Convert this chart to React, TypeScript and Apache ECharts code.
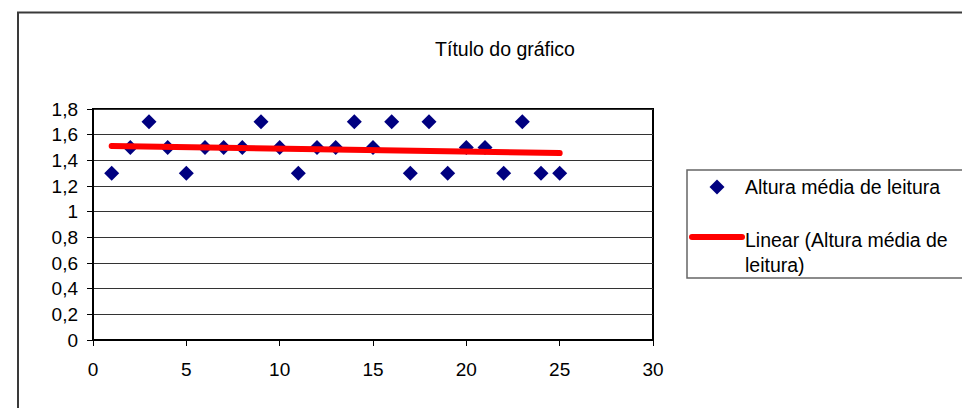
import React, { useEffect, useRef } from "react";
import * as echarts from "echarts";

const xValues = [1, 2, 3, 4, 5, 6, 7, 8, 9, 10, 11, 12, 13, 14, 15, 16, 17, 18, 19, 20, 21, 22, 23, 24, 25];
const yValues = [1.3, 1.5, 1.7, 1.5, 1.3, 1.5, 1.5, 1.5, 1.7, 1.5, 1.3, 1.5, 1.5, 1.7, 1.5, 1.7, 1.3, 1.7, 1.3, 1.5, 1.5, 1.3, 1.7, 1.3, 1.3];
const seriesName = "Altura média de leitura";
const trendName = "Linear (Altura média de leitura)";
const titleText = "Título do gráfico";

const FONT = '"Liberation Sans", Arial, sans-serif';

function linearFit(xs: number[], ys: number[]) {
  const n = xs.length;
  const mx = xs.reduce((a, b) => a + b, 0) / n;
  const my = ys.reduce((a, b) => a + b, 0) / n;
  let sxy = 0;
  let sxx = 0;
  for (let i = 0; i < n; i++) {
    sxy += (xs[i] - mx) * (ys[i] - my);
    sxx += (xs[i] - mx) * (xs[i] - mx);
  }
  const slope = sxy / sxx;
  const intercept = my - slope * mx;
  return { slope, intercept };
}

export default function App() {
  const ref = useRef<HTMLDivElement>(null);
  useEffect(() => {
    if (!ref.current) return;
    const chart = echarts.init(ref.current, undefined, { renderer: "svg" });
    const fit = linearFit(xValues, yValues);
    const x0 = xValues[0];
    const x1 = xValues[xValues.length - 1];
    const trendData = [
      [x0, fit.intercept + fit.slope * x0],
      [x1, fit.intercept + fit.slope * x1],
    ];
    const fmt = (v: number) => String(Math.round(v * 10) / 10).replace(".", ",");
    chart.setOption({
      animation: false,
      backgroundColor: "#ffffff",
      textStyle: { fontFamily: FONT },
      title: {
        text: titleText,
        left: 500,
        top: 34,
        textAlign: "center",
        textStyle: { fontFamily: FONT, fontSize: 19.5, fontWeight: "normal", color: "#000" },
      },
      grid: {
        left: 93,
        top: 109,
        right: 309,
        bottom: 68,
        show: true,
        borderColor: "#000",
        borderWidth: 2,
        backgroundColor: "#fff",
      },
      xAxis: {
        type: "value",
        min: 0,
        max: 30,
        interval: 5,
        axisLine: { show: true, lineStyle: { color: "#000", width: 2 } },
        axisTick: { show: true, length: 6, lineStyle: { color: "#000", width: 1 } },
        axisLabel: { color: "#000", fontSize: 19, fontFamily: FONT, margin: 20 },
        splitLine: { show: false },
      },
      yAxis: {
        type: "value",
        min: 0,
        max: 1.8,
        interval: 0.2,
        axisLine: { show: true, lineStyle: { color: "#000", width: 2 } },
        axisTick: { show: true, length: 6, lineStyle: { color: "#000", width: 1 } },
        axisLabel: { color: "#000", fontSize: 19, fontFamily: FONT, margin: 15, formatter: fmt },
        splitLine: { show: true, lineStyle: { color: "#333", width: 1 } },
      },
      series: [
        {
          name: seriesName,
          type: "scatter",
          data: xValues.map((x, i) => [x, yValues[i]]),
          symbol: "diamond",
          symbolSize: [15, 15],
          itemStyle: { color: "#000080", opacity: 1 },
          z: 2,
        },
        {
          name: trendName,
          type: "line",
          data: trendData,
          symbol: "none",
          lineStyle: { color: "#ff0000", width: 6, cap: "round" },
          z: 3,
        },
      ],
      graphic: [
        {
          type: "rect",
          shape: { x: 18, y: 12.5, width: 1000, height: 500 },
          style: { fill: "none", stroke: "#3a3a3a", lineWidth: 2 },
          silent: true,
          z: 100,
        },
        {
          type: "rect",
          shape: { x: 687, y: 170, width: 300, height: 108 },
          style: { fill: "#fff", stroke: "#666", lineWidth: 1.5 },
          z: 100,
        },
        {
          type: "polygon",
          shape: { points: [[717, 179.5], [724.5, 187], [717, 194.5], [709.5, 187]] },
          style: { fill: "#000080" },
          z: 101,
        },
        {
          type: "line",
          shape: { x1: 692, y1: 237, x2: 742, y2: 237 },
          style: { stroke: "#ff0000", lineWidth: 6, lineCap: "round" },
          z: 101,
        },
        {
          type: "text",
          x: 745,
          y: 187,
          style: { text: seriesName, fontSize: 19.5, fontFamily: FONT, fill: "#000", textVerticalAlign: "middle" },
          z: 101,
        },
        {
          type: "text",
          x: 745,
          y: 240,
          style: { text: "Linear (Altura média de", fontSize: 19.5, fontFamily: FONT, fill: "#000", textVerticalAlign: "middle" },
          z: 101,
        },
        {
          type: "text",
          x: 745,
          y: 265,
          style: { text: "leitura)", fontSize: 19.5, fontFamily: FONT, fill: "#000", textVerticalAlign: "middle" },
          z: 101,
        },
      ],
    });
    return () => chart.dispose();
  }, []);
  return (
    <div
      ref={ref}
      style={{ position: "fixed", left: 0, top: 0, width: 962, height: 408 }}
    />
  );
}
